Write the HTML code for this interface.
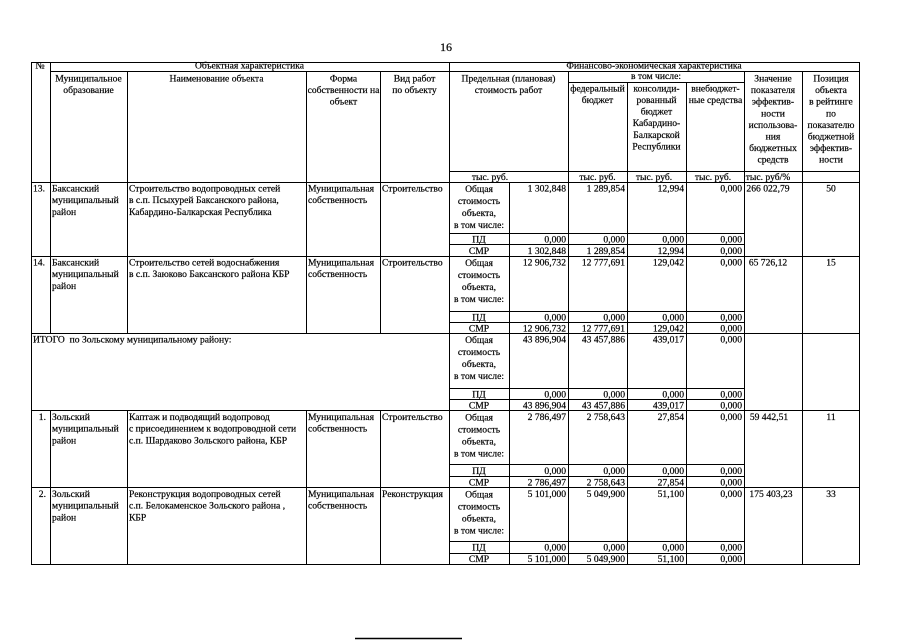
<!DOCTYPE html>
<html>
<head>
<meta charset="utf-8">
<style>
html,body{margin:0;padding:0;background:#fff;}
svg{display:block;}
text{font-family:"Liberation Serif","DejaVu Serif",serif;font-size:9.6px;fill:#000;stroke:#000;stroke-width:0.2px;}
.c{text-anchor:middle;}
.r{text-anchor:end;}
</style>
</head>
<body>
<svg width="905" height="640" viewBox="0 0 905 640" xmlns="http://www.w3.org/2000/svg">
<rect width="905" height="640" fill="#fff"/>
<g stroke="#000" stroke-width="1" fill="none" shape-rendering="crispEdges">
<path d="M31 62.5H860 M50 71.5H860 M568 82.5H745 M449 171.5H860 M31 182.5H860
M449 233.5H745 M449 244.5H745 M31 256.5H860
M449 311.5H745 M449 322.5H745 M31 333.5H860
M449 388.5H745 M449 399.5H745 M31 410.5H860
M449 464.5H745 M449 476.5H745 M31 487.5H860
M449 541.5H745 M449 553.5H745 M31 564.5H860"/>
<path d="M31.5 62V565 M50.5 62V333.5 M50.5 410.5V565
M127.5 71.5V333.5 M127.5 410.5V565
M306.5 71.5V333.5 M306.5 410.5V565
M380.5 71.5V333.5 M380.5 410.5V565
M449.5 62V565 M509.5 182.5V565 M568.5 71.5V565 M627.5 82.5V565 M686.5 82.5V565
M744.5 71.5V565 M802.5 71.5V565 M859.5 62V565"/>
</g>
<path d="M355 638.5H462" stroke="#000" stroke-width="1.5"/>

<text x="446" y="51" class="c" style="font-size:12px">16</text>

<!-- header -->
<text x="40" y="68.5" class="c">№</text>
<text x="249.5" y="68.5" class="c">Объектная характеристика</text>
<text x="654" y="68.5" class="c">Финансово-экономическая характеристика</text>

<text x="88.5" y="81.5" class="c">Муниципальное</text>
<text x="88.5" y="93" class="c">образование</text>
<text x="216.5" y="81.5" class="c">Наименование объекта</text>
<text x="343.5" y="81.5" class="c">Форма</text>
<text x="343.5" y="93" class="c">собственности на</text>
<text x="343.5" y="104.6" class="c">объект</text>
<text x="414.5" y="81.5" class="c">Вид работ</text>
<text x="414.5" y="93" class="c">по объекту</text>

<text x="508.5" y="81.5" class="c">Предельная (плановая)</text>
<text x="508.5" y="93" class="c">стоимость работ</text>
<text x="656" y="79" class="c">в том числе:</text>
<text x="597.5" y="91.5" class="c">федеральный</text>
<text x="597.5" y="103" class="c">бюджет</text>
<text x="656.5" y="91.5" class="c">консолиди-</text>
<text x="656.5" y="103" class="c">рованный</text>
<text x="656.5" y="114.6" class="c">бюджет</text>
<text x="656.5" y="126.2" class="c">Кабардино-</text>
<text x="656.5" y="137.8" class="c">Балкарской</text>
<text x="656.5" y="149.4" class="c">Республики</text>
<text x="715.5" y="91.5" class="c">внебюджет-</text>
<text x="715.5" y="103" class="c">ные средства</text>

<text x="773" y="81.5" class="c">Значение</text>
<text x="773" y="93.1" class="c">показателя</text>
<text x="773" y="104.7" class="c">эффектив-</text>
<text x="773" y="116.3" class="c">ности</text>
<text x="773" y="127.9" class="c">использова-</text>
<text x="773" y="139.5" class="c">ния</text>
<text x="773" y="151.1" class="c">бюджетных</text>
<text x="773" y="162.7" class="c">средств</text>

<text x="831" y="81.5" class="c">Позиция</text>
<text x="831" y="93.1" class="c">объекта</text>
<text x="831" y="104.7" class="c">в рейтинге</text>
<text x="831" y="116.3" class="c">по</text>
<text x="831" y="127.9" class="c">показателю</text>
<text x="831" y="139.5" class="c">бюджетной</text>
<text x="831" y="151.1" class="c">эффектив-</text>
<text x="831" y="162.7" class="c">ности</text>

<text x="490" y="180" class="c">тыс. руб.</text>
<text x="597.5" y="180" class="c">тыс. руб.</text>
<text x="654" y="180" class="c">тыс. руб.</text>
<text x="713" y="180" class="c">тыс. руб.</text>
<text x="768" y="180" class="c">тыс. руб/%</text>

<!-- block 13 -->
<text x="33" y="191.5">13.</text>
<text x="52" y="191.5">Баксанский</text>
<text x="52" y="203.2">муниципальный</text>
<text x="52" y="214.9">район</text>
<text x="129" y="191.5">Строительство водопроводных сетей</text>
<text x="129" y="203.2">в с.п. Псыхурей Баксанского района,</text>
<text x="129" y="214.9">Кабардино-Балкарская Республика</text>
<text x="308" y="191.5">Муниципальная</text>
<text x="308" y="203.2">собственность</text>
<text x="382" y="191.5">Строительство</text>
<text x="479" y="192" class="c">Общая</text>
<text x="479" y="204" class="c">стоимость</text>
<text x="479" y="216" class="c">объекта,</text>
<text x="479" y="228" class="c">в том числе:</text>
<text x="566" y="191.5" class="r">1 302,848</text>
<text x="625" y="191.5" class="r">1 289,854</text>
<text x="684" y="191.5" class="r">12,994</text>
<text x="742" y="191.5" class="r">0,000</text>
<text x="768" y="191.5" class="c">266 022,79</text>
<text x="831" y="191.5" class="c">50</text>
<text x="479" y="242.5" class="c">ПД</text>
<text x="566" y="242.5" class="r">0,000</text>
<text x="625" y="242.5" class="r">0,000</text>
<text x="684" y="242.5" class="r">0,000</text>
<text x="742" y="242.5" class="r">0,000</text>
<text x="479" y="254" class="c">СМР</text>
<text x="566" y="254" class="r">1 302,848</text>
<text x="625" y="254" class="r">1 289,854</text>
<text x="684" y="254" class="r">12,994</text>
<text x="742" y="254" class="r">0,000</text>

<!-- block 14 -->
<text x="33" y="265.5">14.</text>
<text x="52" y="265.5">Баксанский</text>
<text x="52" y="277.2">муниципальный</text>
<text x="52" y="288.9">район</text>
<text x="129" y="265.5">Строительство сетей водоснабжения</text>
<text x="129" y="277.2">в с.п. Заюково Баксанского района КБР</text>
<text x="308" y="265.5">Муниципальная</text>
<text x="308" y="277.2">собственность</text>
<text x="382" y="265.5">Строительство</text>
<text x="479" y="266" class="c">Общая</text>
<text x="479" y="278" class="c">стоимость</text>
<text x="479" y="290" class="c">объекта,</text>
<text x="479" y="302" class="c">в том числе:</text>
<text x="566" y="265.5" class="r">12 906,732</text>
<text x="625" y="265.5" class="r">12 777,691</text>
<text x="684" y="265.5" class="r">129,042</text>
<text x="742" y="265.5" class="r">0,000</text>
<text x="768" y="265.5" class="c">65 726,12</text>
<text x="831" y="265.5" class="c">15</text>
<text x="479" y="320.5" class="c">ПД</text>
<text x="566" y="320.5" class="r">0,000</text>
<text x="625" y="320.5" class="r">0,000</text>
<text x="684" y="320.5" class="r">0,000</text>
<text x="742" y="320.5" class="r">0,000</text>
<text x="479" y="331.5" class="c">СМР</text>
<text x="566" y="331.5" class="r">12 906,732</text>
<text x="625" y="331.5" class="r">12 777,691</text>
<text x="684" y="331.5" class="r">129,042</text>
<text x="742" y="331.5" class="r">0,000</text>

<!-- ИТОГО -->
<text x="33" y="342.5" xml:space="preserve">ИТОГО  по Зольскому муниципальному району:</text>
<text x="479" y="343" class="c">Общая</text>
<text x="479" y="355" class="c">стоимость</text>
<text x="479" y="367" class="c">объекта,</text>
<text x="479" y="379" class="c">в том числе:</text>
<text x="566" y="342.5" class="r">43 896,904</text>
<text x="625" y="342.5" class="r">43 457,886</text>
<text x="684" y="342.5" class="r">439,017</text>
<text x="742" y="342.5" class="r">0,000</text>
<text x="479" y="397.5" class="c">ПД</text>
<text x="566" y="397.5" class="r">0,000</text>
<text x="625" y="397.5" class="r">0,000</text>
<text x="684" y="397.5" class="r">0,000</text>
<text x="742" y="397.5" class="r">0,000</text>
<text x="479" y="408.5" class="c">СМР</text>
<text x="566" y="408.5" class="r">43 896,904</text>
<text x="625" y="408.5" class="r">43 457,886</text>
<text x="684" y="408.5" class="r">439,017</text>
<text x="742" y="408.5" class="r">0,000</text>

<!-- block 1 -->
<text x="46" y="420" class="r">1.</text>
<text x="52" y="420">Зольский</text>
<text x="52" y="431.7">муниципальный</text>
<text x="52" y="443.4">район</text>
<text x="129" y="420">Каптаж и подводящий водопровод</text>
<text x="129" y="431.7">с присоединением к водопроводной сети</text>
<text x="129" y="443.4">с.п. Шардаково Зольского района, КБР</text>
<text x="308" y="420">Муниципальная</text>
<text x="308" y="431.7">собственность</text>
<text x="382" y="420">Строительство</text>
<text x="479" y="420.5" class="c">Общая</text>
<text x="479" y="432.5" class="c">стоимость</text>
<text x="479" y="444.5" class="c">объекта,</text>
<text x="479" y="456.5" class="c">в том числе:</text>
<text x="566" y="420" class="r">2 786,497</text>
<text x="625" y="420" class="r">2 758,643</text>
<text x="684" y="420" class="r">27,854</text>
<text x="742" y="420" class="r">0,000</text>
<text x="769" y="420" class="c">59 442,51</text>
<text x="831" y="420" class="c">11</text>
<text x="479" y="474" class="c">ПД</text>
<text x="566" y="474" class="r">0,000</text>
<text x="625" y="474" class="r">0,000</text>
<text x="684" y="474" class="r">0,000</text>
<text x="742" y="474" class="r">0,000</text>
<text x="479" y="485.5" class="c">СМР</text>
<text x="566" y="485.5" class="r">2 786,497</text>
<text x="625" y="485.5" class="r">2 758,643</text>
<text x="684" y="485.5" class="r">27,854</text>
<text x="742" y="485.5" class="r">0,000</text>

<!-- block 2 -->
<text x="46" y="497" class="r">2.</text>
<text x="52" y="497">Зольский</text>
<text x="52" y="508.7">муниципальный</text>
<text x="52" y="520.4">район</text>
<text x="129" y="497">Реконструкция водопроводных сетей</text>
<text x="129" y="508.7">с.п. Белокаменское Зольского района ,</text>
<text x="129" y="520.4">КБР</text>
<text x="308" y="497">Муниципальная</text>
<text x="308" y="508.7">собственность</text>
<text x="382" y="497">Реконструкция</text>
<text x="479" y="497.5" class="c">Общая</text>
<text x="479" y="509.5" class="c">стоимость</text>
<text x="479" y="521.5" class="c">объекта,</text>
<text x="479" y="533.5" class="c">в том числе:</text>
<text x="566" y="497" class="r">5 101,000</text>
<text x="625" y="497" class="r">5 049,900</text>
<text x="684" y="497" class="r">51,100</text>
<text x="742" y="497" class="r">0,000</text>
<text x="771" y="497" class="c">175 403,23</text>
<text x="831" y="497" class="c">33</text>
<text x="479" y="550.5" class="c">ПД</text>
<text x="566" y="550.5" class="r">0,000</text>
<text x="625" y="550.5" class="r">0,000</text>
<text x="684" y="550.5" class="r">0,000</text>
<text x="742" y="550.5" class="r">0,000</text>
<text x="479" y="562" class="c">СМР</text>
<text x="566" y="562" class="r">5 101,000</text>
<text x="625" y="562" class="r">5 049,900</text>
<text x="684" y="562" class="r">51,100</text>
<text x="742" y="562" class="r">0,000</text>
</svg>
</body>
</html>
